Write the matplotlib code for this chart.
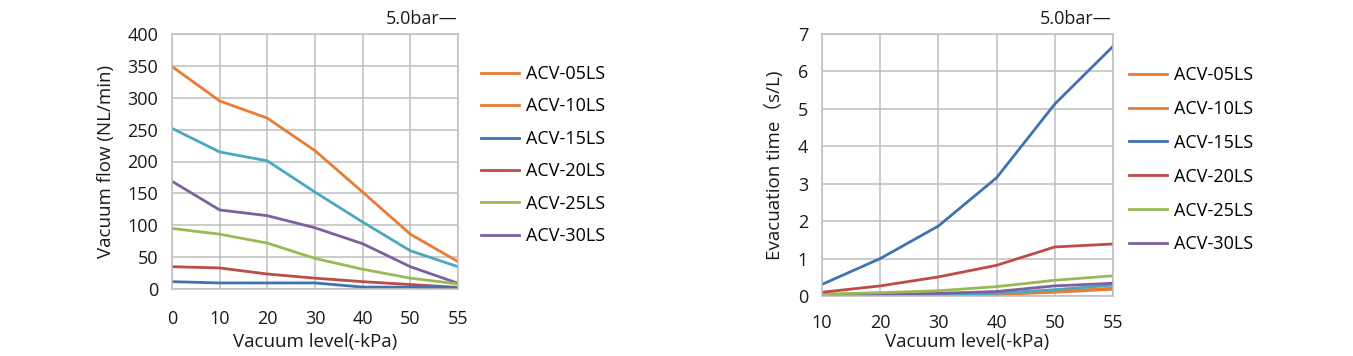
import matplotlib
matplotlib.use("Agg")
import matplotlib.pyplot as plt
from matplotlib.lines import Line2D

plt.rcParams['font.family'] = ['Open Sans', 'Noto Sans CJK SC', 'DejaVu Sans']

# ---------------- data ----------------
models = ["ACV-05LS", "ACV-10LS", "ACV-15LS", "ACV-20LS", "ACV-25LS", "ACV-30LS"]
legend_colors = ["#E97B35", "#E97B35", "#3F72B0", "#BE4B48", "#98B954", "#7D60A0"]

# Left chart: vacuum flow (NL/min)
flow_x = ["0", "10", "20", "30", "40", "50", "55"]
flow_orange = [349, 295, 268, 217, 152, 86, 43]
flow_teal = [252, 215, 201, 152, 105, 60, 35]
flow_purple = [169, 124, 115, 96, 71, 35, 9]
flow_green = [95, 86, 72, 48, 31, 17, 8]
flow_red = [35, 33, 23.5, 17, 11.5, 7, 2.5]
flow_blue = [11.5, 9.5, 9.5, 9.5, 3, 3, 2]

# Right chart: evacuation time (s/L)
time_x = ["10", "20", "30", "40", "50", "55"]
time_blue = [0.31, 1.0, 1.87, 3.16, 5.13, 6.67]
time_red = [0.10, 0.27, 0.51, 0.82, 1.31, 1.39]
time_green = [0.05, 0.09, 0.14, 0.25, 0.42, 0.54]
time_purple = [0.03, 0.05, 0.07, 0.12, 0.27, 0.34]
time_teal = [0.02, 0.04, 0.04, 0.07, 0.17, 0.29]
time_orange = [0.0, 0.01, 0.02, 0.05, 0.12, 0.21]
time_orange2 = [0.0, 0.0, 0.01, 0.04, 0.10, 0.18]

C_ORANGE = "#E97B35"
C_TEAL = "#4AA8C0"
C_BLUE = "#3F72B0"
C_RED = "#BE4B48"
C_GREEN = "#98B954"
C_PURPLE = "#7D60A0"

flow_series = [(flow_orange, C_ORANGE), (flow_teal, C_TEAL), (flow_purple, C_PURPLE),
               (flow_green, C_GREEN), (flow_red, C_RED), (flow_blue, C_BLUE)]
time_series = [(time_orange2, C_ORANGE), (time_orange, C_ORANGE), (time_teal, C_TEAL),
               (time_purple, C_PURPLE), (time_green, C_GREEN), (time_red, C_RED),
               (time_blue, C_BLUE)]

GRID = "#BFBFBF"
TXT = "#1A1A1A"
FS = 13
FS_LAB = 13.5

fig = plt.figure(figsize=(13.53, 3.56), dpi=100)


def style_axes(ax, xlabels, ymax, ystep, xpad):
    n = len(xlabels)
    ax.set_xlim(0, n - 1)
    ax.set_ylim(0, ymax)
    ax.set_xticks(range(n))
    ax.set_xticklabels(xlabels)
    ax.set_yticks([i * ystep for i in range(int(round(ymax / ystep)) + 1)])
    ax.tick_params(axis="y", length=0, labelsize=FS, colors=TXT, pad=10)
    ax.tick_params(axis="x", length=0, labelsize=FS, colors=TXT, pad=xpad)
    ax.grid(True, color=GRID, linewidth=1.1)
    ax.set_axisbelow(True)
    for s in ax.spines.values():
        s.set_color(GRID)
        s.set_linewidth(1.1)


def add_legend(ax, x, y, spacing):
    handles = [Line2D([], [], color=c, lw=2) for c in legend_colors]
    ax.legend(handles, models, loc="upper left", bbox_to_anchor=(x, y),
              bbox_transform=fig.transFigure, frameon=False, fontsize=FS,
              handlelength=2.1, handletextpad=0.38, labelspacing=spacing,
              borderaxespad=0, borderpad=0)


# ---- left chart ----
ax1 = fig.add_axes([172 / 1353, 1 - 289 / 356, 286 / 1353, 255 / 356])
xs = list(range(len(flow_x)))
for vals, col in flow_series:
    ax1.plot(xs, vals, color=col, lw=2, solid_capstyle="butt")
style_axes(ax1, flow_x, 400, 50, 15)
ax1.set_xlabel("Vacuum level(-kPa)", fontsize=FS_LAB, color=TXT, labelpad=4)
ax1.set_ylabel("Vacuum flow (NL/min)", fontsize=FS_LAB, color=TXT, labelpad=9)
fig.text(458 / 1353, 1 - 19 / 356, "5.0bar—", ha="right", va="center",
         fontsize=FS, color=TXT)
add_legend(ax1, 481 / 1353, 1 - 65 / 356, 0.80)

# ---- right chart ----
ax2 = fig.add_axes([822 / 1353, 1 - 296 / 356, 291 / 1353, 262 / 356])
xs2 = list(range(len(time_x)))
for vals, col in time_series:
    ax2.plot(xs2, vals, color=col, lw=2, solid_capstyle="butt")
style_axes(ax2, time_x, 7, 1, 13)
ax2.set_xlabel("Vacuum level(-kPa)", fontsize=FS_LAB, color=TXT, labelpad=1)
ax2.set_ylabel("Evacuation time（s/L)", fontsize=FS_LAB, color=TXT, labelpad=10)
fig.text(1112 / 1353, 1 - 19 / 356, "5.0bar—", ha="right", va="center",
         fontsize=FS, color=TXT)
add_legend(ax2, 1129 / 1353, 1 - 66 / 356, 0.88)

fig.savefig("out.png", dpi=100)
